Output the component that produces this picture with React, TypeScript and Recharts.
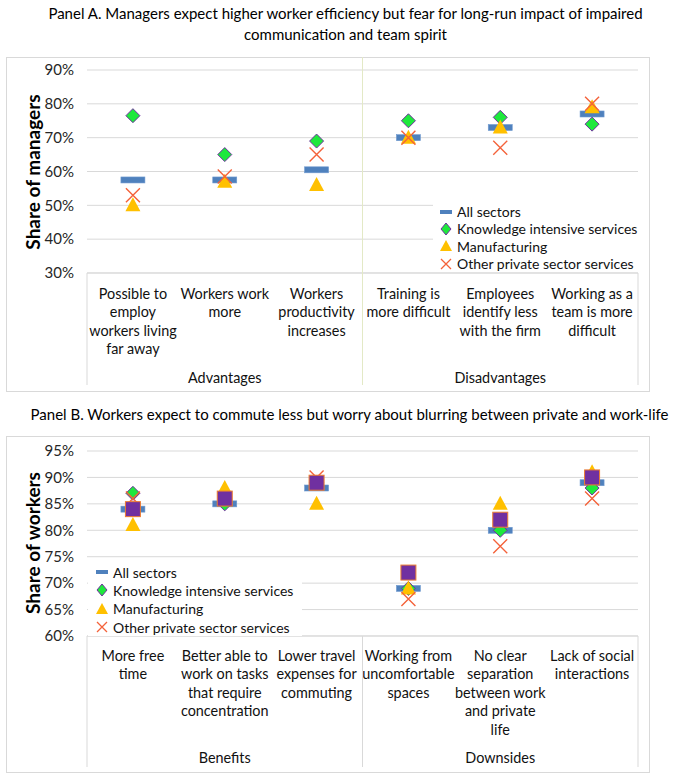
import React from 'react';
import { ComposedChart, Line, XAxis, YAxis, CartesianGrid } from 'recharts';

const FONT = 'Lato, "Noto Sans", sans-serif';

// Panel A: managers
const catsA = [
  ['Possible to', 'employ', 'workers living', 'far away'],
  ['Workers work', 'more'],
  ['Workers', 'productivity', 'increases'],
  ['Training is', 'more difficult'],
  ['Employees', 'identify less', 'with the firm'],
  ['Working as a', 'team is more', 'difficult'],
];
const groupsA = ['Advantages', 'Disadvantages'];
const ticksA = [30, 40, 50, 60, 70, 80, 90];
const allA = [57.5, 57.5, 60.5, 70, 73, 77];
const kisA = [76.5, 65, 69, 75, 76, 74];
const manA = [50, 57, 56, 70, 73, 79];
const othA = [53, 58.5, 65, 70, 67, 80];

// Panel B: workers
const catsB = [
  ['More free', 'time'],
  ['Better able to', 'work on tasks', 'that require', 'concentration'],
  ['Lower travel', 'expenses for', 'commuting'],
  ['Working from', 'uncomfortable', 'spaces'],
  ['No clear', 'separation', 'between work', 'and private', 'life'],
  ['Lack of social', 'interactions'],
];
const groupsB = ['Benefits', 'Downsides'];
const ticksB = [60, 65, 70, 75, 80, 85, 90, 95];
const allB = [84, 85, 88, 69, 80, 89];
const kisB = [87, 85, 89, 69, 80, 88];
const manB = [81, 88, 85, 69, 85, 91];
const othB = [86, 86, 90, 67, 77, 86];
const extraB = [84, 86, 89, 72, 82, 90];

const legendNames = ['All sectors', 'Knowledge intensive services', 'Manufacturing', 'Other private sector services'];

const BLUE = '#4f81bd';
const GREEN = '#1ee83c';
const PURPLE = '#7030a0';
const GOLD = '#ffc000';
const RED = '#f4623a';
const GRID = '#d9d9d9';

const PLOT_L = 87;
const PLOT_R = 638;
const BW = (PLOT_R - PLOT_L) / 6;

const Dash = ({ cx, cy }: any) => (
  <rect x={cx - 12} y={cy - 3} width={24} height={6} fill={BLUE} stroke="#6f9ad0" strokeWidth={0.6} />
);
const Diamond = ({ cx, cy }: any) => (
  <path d={`M${cx},${cy - 7} L${cx + 7},${cy} L${cx},${cy + 7} L${cx - 7},${cy} Z`} fill={GREEN} stroke={PURPLE} strokeWidth={1} />
);
const Tri = ({ cx, cy }: any) => (
  <path d={`M${cx},${cy - 8} L${cx + 7.5},${cy + 6} L${cx - 7.5},${cy + 6} Z`} fill={GOLD} />
);
const Cross = ({ cx, cy }: any) => (
  <path d={`M${cx - 7},${cy - 7} L${cx + 7},${cy + 7} M${cx + 7},${cy - 7} L${cx - 7},${cy + 7}`} stroke={RED} strokeWidth={1.4} fill="none" />
);
const Square = ({ cx, cy }: any) => (
  <rect x={cx - 7.5} y={cy - 7.5} width={15} height={15} fill={PURPLE} stroke="#ed7d31" strokeWidth={1} />
);

const dotOf = (Shape: any) => (p: any) => <Shape key={p.index} cx={p.cx} cy={p.cy} />;

function makeTick(cats: string[][], groups: string[], o: any) {
  return (props: any) => {
    const { x, y, index } = props;
    const lines = cats[index] || [];
    return (
      <g>
        {lines.map((t, i) => (
          <text key={i} x={x} y={y + o.first + i * 18.5} textAnchor="middle" dominantBaseline="central" fontSize={14.4} fill="#111" fontFamily={FONT}>
            {t}
          </text>
        ))}
        {index % 3 === 1 && (
          <text x={x} y={y + o.group} textAnchor="middle" dominantBaseline="central" fontSize={14.4} fill="#111" fontFamily={FONT}>
            {groups[(index - 1) / 3]}
          </text>
        )}
        {index === 0 && <line x1={x - BW / 2} x2={x - BW / 2} y1={y} y2={y + o.len} stroke={GRID} />}
        {index === 3 && <line x1={x - BW / 2} x2={x - BW / 2} y1={y - o.up} y2={y + o.len} stroke={o.divColor} />}
        {index === 5 && <line x1={x + BW / 2} x2={x + BW / 2} y1={y} y2={y + o.len} stroke={GRID} />}
      </g>
    );
  };
}

function Legend({ left, top, width, height, gap, textLeft }: any) {
  const icons = [
    <rect key="a" x={1} y={6} width={12} height={4} fill={BLUE} />,
    <path key="b" d="M7,2 L12,8 L7,14 L2,8 Z" fill={GREEN} stroke={PURPLE} strokeWidth={1} />,
    <path key="c" d="M7,2 L13,13 L1,13 Z" fill={GOLD} />,
    <path key="d" d="M2,3 L12,13 M12,3 L2,13" stroke={RED} strokeWidth={1.3} />,
  ];
  return (
    <div style={{ position: 'absolute', left, top, width, height, background: '#fff' }}>
      {legendNames.map((n, i) => (
        <div key={n} style={{ position: 'absolute', left: 0, top: i * gap, height: gap, display: 'flex', alignItems: 'center', whiteSpace: 'nowrap' }}>
          <svg width={14} height={16} style={{ marginLeft: textLeft - 18, marginRight: 4 }}>
            {icons[i]}
          </svg>
          <span style={{ fontFamily: FONT, fontSize: 14, color: '#111' }}>{n}</span>
        </div>
      ))}
    </div>
  );
}

function Panel({ ticks, domain, yLabel, labelY, cats, groups, tickOpts, withExtra }: any) {
  return (
    <>
      <CartesianGrid vertical={false} stroke={GRID} />
      <XAxis
        dataKey="cat"
        scale="band"
        interval={0}
        axisLine={{ stroke: GRID }}
        tickLine={false}
        tickSize={0}
        tickMargin={0}
        height={tickOpts.height}
        tick={makeTick(cats, groups, tickOpts)}
      />
      <YAxis
        domain={domain}
        ticks={ticks}
        type="number"
        width={60}
        axisLine={false}
        tickLine={false}
        tickSize={0}
        tickMargin={13}
        tickFormatter={(v: number) => `${v}%`}
        tick={{ fontSize: 15, fill: '#262626', fontFamily: FONT }}
        label={{
          content: () => (
            <text x={32} y={labelY} transform={`rotate(-90 32 ${labelY})`} textAnchor="middle" dominantBaseline="central" fontSize={19} fontWeight="bold" fill="#000" fontFamily={FONT}>
              {yLabel}
            </text>
          ),
        }}
      />
      <Line dataKey="all" stroke="none" dot={dotOf(Dash)} activeDot={false} isAnimationActive={false} />
      <Line dataKey="kis" stroke="none" dot={dotOf(Diamond)} activeDot={false} isAnimationActive={false} />
      <Line dataKey="man" stroke="none" dot={dotOf(Tri)} activeDot={false} isAnimationActive={false} />
      <Line dataKey="oth" stroke="none" dot={dotOf(Cross)} activeDot={false} isAnimationActive={false} />
      {withExtra && <Line dataKey="extra" stroke="none" dot={dotOf(Square)} activeDot={false} isAnimationActive={false} />}
    </>
  );
}

export default function App() {
  const rowsA = catsA.map((c, i) => ({ cat: c.join(' '), all: allA[i], kis: kisA[i], man: manA[i], oth: othA[i] }));
  const rowsB = catsB.map((c, i) => ({ cat: c.join(' '), all: allB[i], kis: kisB[i], man: manB[i], oth: othB[i], extra: extraB[i] }));
  const titleStyle: React.CSSProperties = { position: 'absolute', left: 0, width: 683, textAlign: 'center', fontFamily: FONT, fontSize: 15, color: '#000', lineHeight: '21px' };

  return (
    <div style={{ position: 'absolute', left: 0, top: 0, width: 683, height: 783, background: '#fff' }}>
      <div style={{ ...titleStyle, top: 3, left: 4 }}>
        Panel A. Managers expect higher worker efficiency but fear for long-run impact of impaired
        <br />
        communication and team spirit
      </div>
      <div style={{ position: 'absolute', left: 6, top: 57, width: 642, height: 333, border: `1px solid ${GRID}` }} />
      <div style={{ position: 'absolute', left: 0, top: 55 }}>
        <ComposedChart width={683} height={335} data={rowsA} margin={{ top: 15, right: 45, bottom: 2, left: 27 }}>
          {Panel({
            ticks: ticksA,
            domain: [30, 90],
            yLabel: 'Share of managers',
            labelY: 117,
            cats: catsA,
            groups: groupsA,
            tickOpts: { height: 115, first: 20, group: 104, len: 112, up: 216, divColor: '#e3e9c6' },
            withExtra: false,
          })}
        </ComposedChart>
      </div>
      <Legend left={433} top={203} width={205} height={69} gap={17.3} textLeft={24} />

      <div style={{ ...titleStyle, top: 404, left: 8 }}>
        Panel B. Workers expect to commute less but worry about blurring between private and work-life
      </div>
      <div style={{ position: 'absolute', left: 6, top: 436, width: 642, height: 335, border: `1px solid ${GRID}` }} />
      <div style={{ position: 'absolute', left: 0, top: 437 }}>
        <ComposedChart width={683} height={334} data={rowsB} margin={{ top: 14, right: 45, bottom: 2, left: 27 }}>
          {Panel({
            ticks: ticksB,
            domain: [60, 95],
            yLabel: 'Share of workers',
            labelY: 106,
            cats: catsB,
            groups: groupsB,
            tickOpts: { height: 133, first: 19, group: 121, len: 131, up: 0, divColor: GRID },
            withExtra: true,
          })}
        </ComposedChart>
      </div>
      <Legend left={88} top={563} width={214} height={73} gap={18.3} textLeft={25} />
    </div>
  );
}
